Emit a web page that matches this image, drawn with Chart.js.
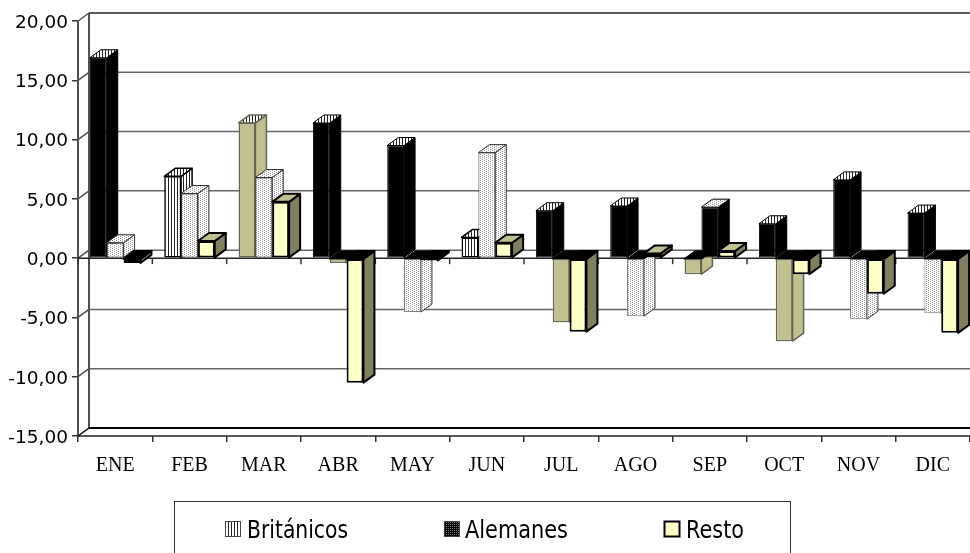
<!DOCTYPE html>
<html>
<head>
<meta charset="utf-8">
<style>html,body{margin:0;padding:0;background:#fff;overflow:hidden}canvas{display:block}</style>
<script src="https://cdn.jsdelivr.net/npm/chart.js@4"></script>
</head>
<body>
<canvas id="c" width="970" height="553"></canvas>
<script>
const categories = ['ENE','FEB','MAR','ABR','MAY','JUN','JUL','AGO','SEP','OCT','NOV','DIC'];
const seriesNames = ['Británicos','Alemanes','Resto'];
const britanicos = [16.9, 6.9, 11.4, 11.4, 9.5, 1.75, 4.0, 4.4, -1.35, 2.9, 6.6, 3.8];
const alemanes   = [1.3, 5.45, 6.8, -0.4, -4.55, 8.9, -5.4, -4.9, 4.3, -7.0, -5.15, -4.65];
const resto      = [-0.4, 1.45, 4.75, -10.5, -0.2, 1.3, -6.2, 0.4, 0.6, -1.35, -3.0, -6.3];
const yMin = -15, yMax = 20, yStep = 5;

// front-face look of every bar, per series
const britanicosLook = ['black','stripes','khaki','black','black','stripes','black','black','khaki','black','black','black'];
const alemanesLook   = ['dots','dots','dots','khaki','dots','dots','khaki','dots','black','khaki','dots','dots'];
const restoLook      = Array(12).fill('yellow');
const looks = [britanicosLook, alemanesLook, restoLook];

const DX = 11, DY = -8;
const LINE = '#505050';

function tile(w, h, paint){
  const c = document.createElement('canvas'); c.width = w; c.height = h;
  paint(c.getContext('2d'));
  return c.getContext('2d').createPattern(c, 'repeat');
}
const stripes = tile(3, 3, g => { g.fillStyle='#fff'; g.fillRect(0,0,3,3); g.fillStyle='#222'; g.fillRect(0,0,1,3); });
const dots = tile(4, 4, g => { g.fillStyle='#fff'; g.fillRect(0,0,4,4); g.fillStyle='#999';
  g.fillRect(0,0,1,1); g.fillRect(2,1,1,1); g.fillRect(0,2,1,1); g.fillRect(2,3,1,1); });
const darkDots = tile(2, 2, g => { g.fillStyle='#000'; g.fillRect(0,0,2,2); g.fillStyle='#777'; g.fillRect(0,0,1,1); });
const fills = {black:'#000', stripes, khaki:'#C0C090', dots, yellow:'#FFFFC8'};
const sideFills = {black:'#000', stripes, khaki:'#C0C090', dots, yellow:'#808060'};
const edge = {black:'#000', stripes:'#000', khaki:'#666650', dots:'#333', yellow:'#000'};
const edgeWidth = {black:1, stripes:1.5, khaki:1.5, dots:1, yellow:2};
const tops = [stripes, dots, '#C0C090'];
const legendFills = [stripes, darkDots, '#FFFFC8'];
const legendBoxX = [225, 444, 664], legendTextX = [247, 465, 686], legendTextW = [101, 103, 58];

function poly(ctx, pts, fill, stroke, lw){
  ctx.beginPath();
  pts.forEach((p,i)=> i?ctx.lineTo(p[0],p[1]):ctx.moveTo(p[0],p[1]));
  ctx.closePath();
  ctx.fillStyle = fill; ctx.fill();
  ctx.strokeStyle = stroke; ctx.lineWidth = lw; ctx.stroke();
}
function line(ctx, x1,y1,x2,y2,color,lw){
  ctx.beginPath(); ctx.moveTo(x1,y1); ctx.lineTo(x2,y2);
  ctx.strokeStyle=color; ctx.lineWidth=lw; ctx.stroke();
}

const depth3d = {
  id:'depth3d',
  beforeDraw(chart){
    const items = chart.scales.y.getLabelItems();
    if(!items._moved){ items.forEach(it=>{ it.options.translation[1]+=2; }); items._moved=true; }
  },
  beforeDatasetsDraw(chart){
    const {ctx, chartArea:a, scales:{x,y}} = chart;
    ctx.save();
    line(ctx, a.left+DX, a.top+DY, a.left+DX, a.bottom+DY, LINE, 2);
    y.ticks.forEach(t=>{
      const py = y.getPixelForValue(t.value);
      const isFloor = t.value===yMin;
      line(ctx, a.left, py, a.left+DX, py+DY, isFloor?'#000':LINE, 1.5);
      line(ctx, a.left+DX, py+DY, 980, py+DY, isFloor?'#000':(t.value===yMax?'#222':'#666'), isFloor?2:1.5);
    });
    const p0 = y.getPixelForValue(0), pb = y.getPixelForValue(yMin);
    line(ctx, a.left, p0, 980, p0, '#222', 1.5);
    line(ctx, a.left, pb, 980, pb, '#222', 1.5);
    for(let i=0;i<=categories.length;i++){
      const px = a.left + i*(a.right-a.left)/categories.length;
      line(ctx, px, p0, px, p0+6, '#333', 1.5);
    }
    ctx.restore();
  },
  beforeDatasetDraw(){ return false; },
  afterDatasetsDraw(chart){
    const {ctx} = chart;
    chart.data.datasets.forEach((ds,si)=>{
      const meta = chart.getDatasetMeta(si);
      ctx.save();
      ctx.lineJoin='round';
      meta.data.forEach((el,i)=>{
        const look = looks[si][i];
        const neg = ds.data[i] < 0;
        const L = el.x-el.width/2, R = el.x+el.width/2;
        const hi = Math.min(el.y, el.base), lo = Math.max(el.y, el.base);
        const lw = edgeWidth[look];
        const sc = edge[look];
        poly(ctx, [[R,hi],[R+DX,hi+DY],[R+DX,lo+DY],[R,lo]], sideFills[look], sc, lw);
        poly(ctx, [[L,hi],[L+DX,hi+DY],[R+DX,hi+DY],[R,hi]], neg?'#000':tops[si], neg?'#000':sc, lw);
      });
      ctx.restore();
      meta.controller.draw();
    });
  },
  afterDraw(chart){
    const {ctx} = chart;
    ctx.save();
    ctx.strokeStyle='#333'; ctx.lineWidth=1;
    ctx.strokeRect(174.5,501.5,616,60);
    ctx.font='25px "DejaVu Sans"';
    ctx.textBaseline='alphabetic'; ctx.textAlign='left';
    seriesNames.forEach((n,i)=>{
      ctx.fillStyle=legendFills[i];
      ctx.fillRect(legendBoxX[i],521,16,16);
      ctx.strokeStyle=i===2?'#000':'#444'; ctx.lineWidth=i===2?2:1;
      ctx.strokeRect(legendBoxX[i]+.5,521.5,15,15);
      ctx.fillStyle='#000';
      ctx.fillText(n,legendTextX[i],537.5,legendTextW[i]);
    });
    ctx.restore();
  }
};

new Chart(document.getElementById('c'),{
  type:'bar',
  data:{
    labels:categories,
    datasets:[britanicos,alemanes,resto].map((vals,si)=>({
      label:seriesNames[si],
      data:vals,
      backgroundColor:looks[si].map(k=>fills[k]),
      borderColor:looks[si].map((k,i)=>(k==='dots'&&vals[i]<0)?'#777':edge[k]),
      borderWidth:looks[si].map(k=>edgeWidth[k]),
      borderSkipped:false,
      categoryPercentage:0.68,
      barPercentage:1
    }))
  },
  options:{
    responsive:false,
    animation:false,
    layout:{padding:{top:21,left:0,right:0,bottom:67}},
    plugins:{legend:{display:false},tooltip:{enabled:false}},
    scales:{
      x:{
        offset:true,
        grid:{offset:true,drawOnChartArea:false,color:'#333',lineWidth:1.5,tickLength:6},
        border:{display:false},
        ticks:{autoSkip:false,maxRotation:0,color:'#000',padding:12,font:{family:'"Liberation Serif"',size:20}},
        afterFit(s){s.height=50;}
      },
      y:{
        min:yMin,max:yMax,
        grid:{drawOnChartArea:false,color:'#333',lineWidth:1.5,tickLength:6},
        border:{display:true,color:LINE,width:2},
        ticks:{stepSize:yStep,color:'#000',padding:4,font:{family:'"DejaVu Sans"',size:18.5},
          callback:v=>v.toFixed(2).replace('.',',')},
        afterFit(s){s.width=78;}
      }
    }
  },
  plugins:[depth3d]
});
</script>
</body>
</html>
